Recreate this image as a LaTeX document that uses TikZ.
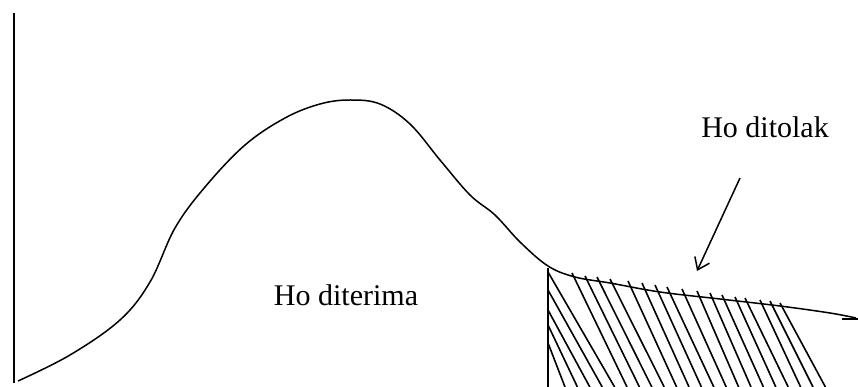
\documentclass[tikz,border=0pt]{standalone}
\usepackage{fontspec}
\setmainfont{Liberation Serif}
\usetikzlibrary{arrows.meta}
\begin{document}
\begin{tikzpicture}[x=1pt,y=-1pt,
  ln/.style={line width=1.5pt,black},
  hatchline/.style={line width=1.6pt,black},
  lbl/.style={font=\fontsize{30}{36}\selectfont,inner sep=0pt,anchor=base}]
\useasboundingbox (0,0) rectangle (858,387);
% axis
\coordinate (axtop) at (14,13);
\coordinate (axbot) at (14,383);
\draw[ln] (axtop) -- (axbot);
% curve
\draw[ln] plot[smooth,tension=0.6] coordinates {(18,381) (70,355) (120,320) (150,282) (175,228) (205,187) (245,145) (285,118) (320,104) (350,100) (380,104) (410,124) (440,160) (470,195) (495,215) (520,242) (548,266) (575,277) (610,283) (660,292) (720,299) (780,306) (830,313) (856,318)};
\coordinate (e1) at (842,319);
\coordinate (e2) at (858,319);
\draw[ln] (e1) -- (e2);
% vertical cut
\coordinate (ctop) at (548,268);
\coordinate (cbot) at (548,387);
\draw[ln] (ctop) -- (cbot);
% hatching
\foreach \xt/\yt [count=\i from 0] in {548/343,548/325,548/310,548/290,548/272,572/273,585/276,597/277,610/279,628/281,642/283,655/285,667/287,682/289,697/291,710/293,722/295,735/297,745/298,760/300,770/301,780/303}{
  \pgfmathsetmacro{\xb}{565+\i*12.4}
  \draw[hatchline] (\xt,\yt) -- (\xb,387);
}
% labels
\node[lbl] (acc) at (346,305) {Ho diterima};
\node[lbl] (rej) at (765,138) {Ho ditolak};
\coordinate (as) at (740,178);
\coordinate (ae) at (697,271);
\draw[ln,-{Straight Barb[length=11pt,width=16pt]}] (as) -- (ae);
\end{tikzpicture}
\end{document}
